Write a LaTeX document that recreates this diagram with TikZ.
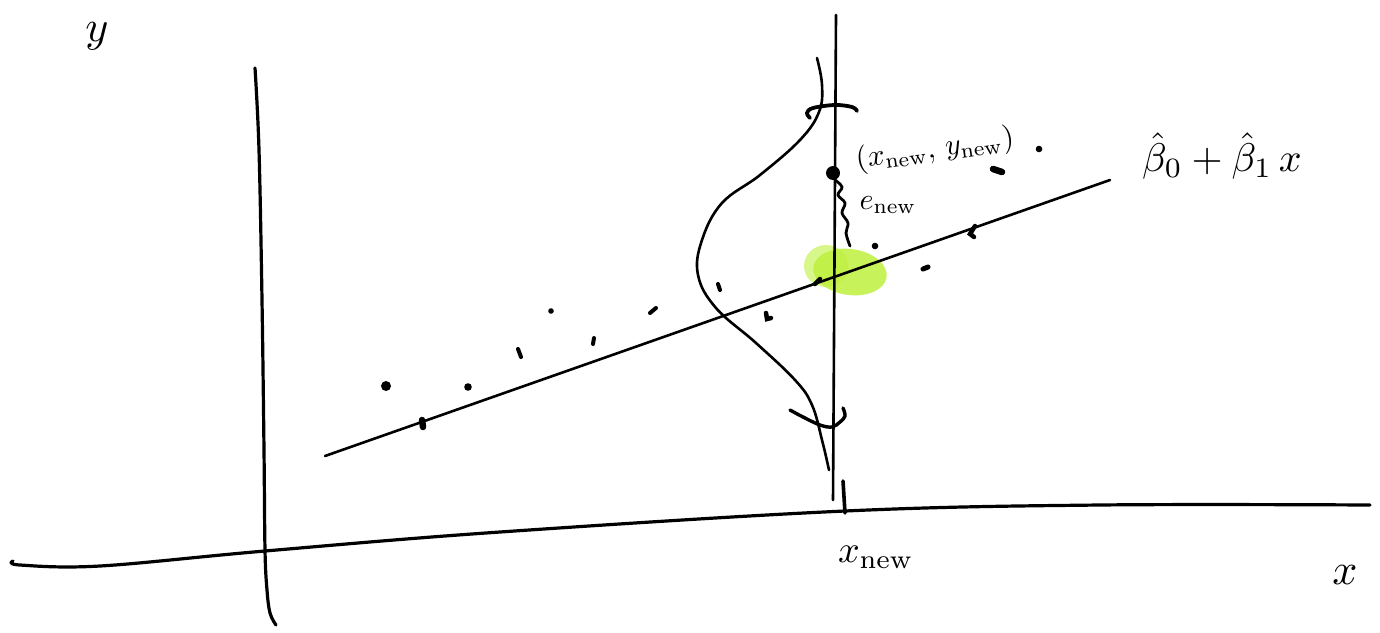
\documentclass[tikz,border=0pt]{standalone}
\usepackage{amsmath}
\definecolor{lime}{RGB}{190,240,60}
\definecolor{limelight}{RGB}{205,245,110}
\tikzset{
  pen/.style={line width=2.6pt, line cap=round, line join=round},
  axispen/.style={line width=3.2pt, line cap=round, line join=round},
  datum/.style={line width=4.5pt, line cap=round},
  lbl/.style={inner sep=0pt, text=black}
}
\begin{document}
\begin{tikzpicture}[x=1pt,y=-1pt]
\useasboundingbox (0,0) rectangle (1380,632);
% highlight blob
\fill[limelight, opacity=0.8] (826,266) ellipse [x radius=22, y radius=21];
\fill[lime, opacity=0.85, rotate around={-8:(850,272)}] (850,272) ellipse [x radius=37, y radius=23];
% axes
\draw[axispen] plot[smooth, tension=0.6] coordinates {(13,561) (20,565) (100,566) (265,551) (500,532) (845,511) (1100,505) (1370,505)};
\draw[axispen] plot[smooth, tension=0.6] coordinates {(255,68) (259,150) (262,300) (264,450) (265,550) (267,590) (270,613) (276,625)};
% regression line
\draw[pen] (325,456) -- (1110,180);
% vertical line at x_new
\draw[pen] (836,15) -- (833,500);
\draw[line width=3.6pt, line cap=round] (843,481) -- (845,513);
% density curve
\draw[pen] plot[smooth, tension=0.65] coordinates {(817,58) (822,85) (819,112) (800,140) (760,175) (722,203) (702,240) (698,275) (716,308) (756,343) (795,380) (812,405) (822,440) (829,470)};
% brackets
\draw[line width=3.8pt, line cap=round] plot[smooth, tension=0.6] coordinates {(810,118) (807,113) (813,108) (835,105) (852,107) (857,111)};
\draw[line width=3.4pt, line cap=round] plot[smooth, tension=0.6] coordinates {(790,410) (803,417) (820,425) (832,427) (840,422) (845,416) (843,408)};
% residual squiggle
\draw[line width=2.8pt, line cap=round] plot[smooth, tension=0.6] coordinates {(835,180) (842,187) (838,195) (845,203) (842,213) (848,223) (846,233) (850,246)};
% data points
\fill (386,386) circle (5);
\fill (468,387) circle (3.8);
\draw[datum, line width=6.5pt] (422,420) -- (423,427);
\draw[datum, line width=4pt] (518,349) -- (521,357);
\fill (551,311) circle (2.8);
\draw[datum, line width=4pt] (593,344) -- (594,338);
\draw[datum, line width=4pt] (650,313) -- (656,308);
\draw[datum, line width=4pt] (718,284) -- (720,290);
\draw[datum, line width=4.5pt] (766,313) -- (767,319) -- (771,318);
\draw[datum, line width=4.5pt] (815,284) -- (820,279);
\fill (875,246) circle (3.3);
\draw[datum, line width=5pt] (923,269) -- (928,267);
\draw[datum, line width=4.5pt] (975,226) -- (970,234) -- (974,237);
\draw[datum, line width=6.5pt] (993,169) -- (1002,172);
\fill (1039,149) circle (3.3);
\fill (833,173) circle (7);
% labels
\node[lbl, scale=4.4] (ylab) at (97,36) {$y$};
\node[lbl, scale=3.0, rotate=8] (newpt) at (935,150) {$(x_{\mathrm{new}},\, y_{\mathrm{new}})$};
\node[lbl, scale=3.0] (enew) at (888,205) {$e_{\mathrm{new}}$};
\node[lbl, scale=4.0] (fit) at (1222,156) {$\hat{\beta}_0 + \hat{\beta}_1\, x$};
\node[lbl, scale=3.8] (xnew) at (876,557) {$x_{\mathrm{new}}$};
\node[lbl, scale=4.4] (xlab) at (1345,575) {$x$};
\end{tikzpicture}
\end{document}
